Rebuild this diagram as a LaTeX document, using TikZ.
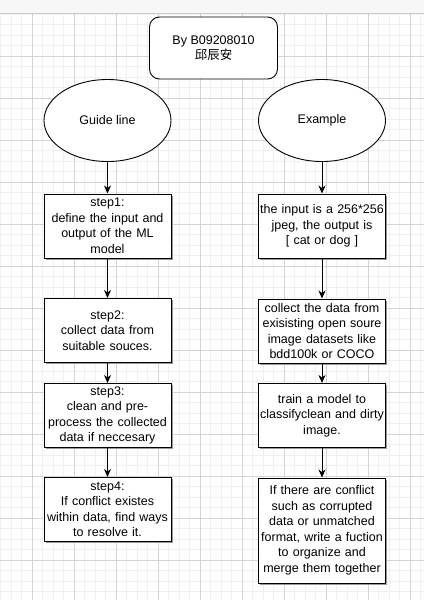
\documentclass[tikz,border=0pt]{standalone}
\usepackage{fontspec}
\setmainfont{Liberation Sans}
\newfontfamily\cjkfont{Noto Sans CJK TC}
\usetikzlibrary{shapes.geometric,arrows.meta,shadows}

\begin{document}
\begin{tikzpicture}[x=1pt, y=-1pt,
    stepbox/.style={draw, rectangle, line width=1pt, align=center, text width=124pt, inner sep=1.5pt, minimum height=64pt, font=\fontsize{12.5}{15.5}\selectfont, fill=white, drop shadow={shadow xshift=1.5pt, shadow yshift=-1.5pt, fill=black!40, opacity=1}},
    oval/.style={draw, ellipse, line width=0.9pt, minimum width=127pt, minimum height=82pt, inner sep=0pt, font=\fontsize{12.5}{15}\selectfont, fill=white},
    titlebox/.style={draw, rectangle, rounded corners=10pt, line width=0.9pt, align=center, minimum width=128pt, minimum height=62pt, font=\fontsize{12.5}{15.5}\selectfont, fill=white},
    flow/.style={line width=1pt, -{Stealth[length=8pt, width=7pt, inset=2.5pt]}},
    minorgrid/.style={black!6, line width=0.8pt},
    majorgrid/.style={black!17, line width=0.8pt},
]
\useasboundingbox (0,0) rectangle (424,600);

% --- page and grid ---
\fill[white] (0,0) rectangle (424,600);
\fill[black!3] (0,0) rectangle (424,13);
\draw[black!20] (0,13.5) -- (424,13.5);
\foreach \k in {0,...,40}
    \draw[minorgrid] ({0.5+10.5*\k},14) -- ({0.5+10.5*\k},600);
\foreach \k in {0,...,55}
    \draw[minorgrid] (0,{14+10.5*\k}) -- (424,{14+10.5*\k});
\foreach \k in {0,...,9}
    \draw[majorgrid] ({32+42*\k},14) -- ({32+42*\k},600);
\foreach \k in {1,...,13}
    \draw[majorgrid] (0,{14+42*\k}) -- (424,{14+42*\k});

% --- heads ---
\node[titlebox] (author) at (213.5,48) {By B09208010\\{\cjkfont 邱辰安}};
\node[oval] (guide) at (107.5,120.5) {Guide line};
\node[oval] (example) at (322,120.5) {Example};

% --- guide line steps ---
\node[stepbox] (step1) at (107.5,226) {step1:\\define the input and\\output of the ML\\model};
\node[stepbox] (step2) at (107.5,330.5) {step2:\\collect data from\\suitable souces.};
\node[stepbox] (step3) at (107.5,415.5) {step3:\\clean and pre-\\process the collected\\data if neccesary};
\node[stepbox] (step4) at (107.5,509.5) {step4:\\If conflict existes\\within data, find ways\\to resolve it.};

% --- example steps ---
\node[stepbox] (ex1) at (322,226) {the input is a 256*256\\jpeg, the output is\\ {[} cat or dog {]}};
\node[stepbox] (ex2) at (322,331) {collect the data from\\exisisting open soure\\image datasets like\\bdd100k or COCO};
\node[stepbox] (ex3) at (322,415.5) {train a model to\\classifyclean and dirty\\image.};
\node[stepbox, minimum height=105pt] (ex4) at (322,530.5) {If there are conflict\\such as corrupted\\data or unmatched\\format, write a fuction\\to organize and\\merge them together};

% --- arrows ---
\draw[flow] (guide) -- (step1);
\draw[flow] (step1) -- (step2);
\draw[flow] (step2) -- (step3);
\draw[flow] (step3) -- (step4);

\draw[flow] (example) -- (ex1);
\draw[flow] (ex1) -- (ex2);
\draw[flow] (ex2) -- (ex3);
\draw[flow] (ex3) -- (ex4);
\end{tikzpicture}
\end{document}
